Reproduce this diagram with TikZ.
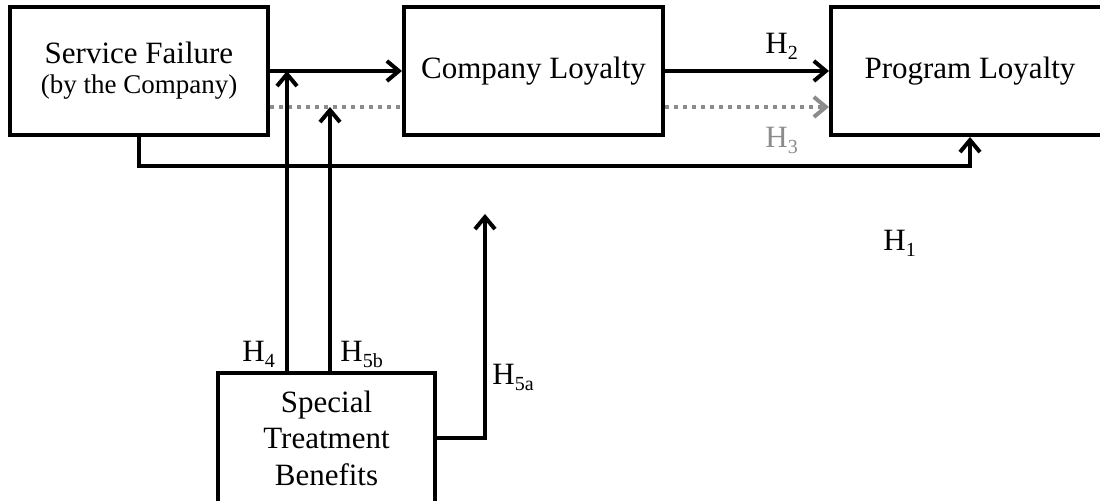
\documentclass[tikz,border=0pt]{standalone}
\usepackage{fontspec}
\setmainfont{Liberation Serif}
\usetikzlibrary{arrows.meta}
\definecolor{lgray}{RGB}{140,140,140}
\newcommand\Hsub[1]{H\raisebox{-3pt}{\fontsize{10}{12}\selectfont #1}}
\tikzset{
  box/.style={draw, line width=2pt, fill=white, align=center, inner sep=0pt,
    font=\fontsize{15.5}{16}\selectfont},
  tip/.style={-{Straight Barb[length=6pt,width=10pt]}},
  arr/.style={line width=2pt, tip},
  dot/.style={line width=2pt, draw=lgray, dash pattern=on 2.2pt off 2.3pt},
  lab/.style={anchor=base west, inner sep=0pt, font=\fontsize{15.5}{16}\selectfont}
}
\begin{document}
\begin{tikzpicture}[x=0.5pt,y=-0.5pt]
\clip (0,0) rectangle (1100,501);
\node[box, minimum width=129pt, minimum height=64pt] (sf) at (139,71)
  {Service Failure\\[-1pt]{\fontsize{13.5}{16}\selectfont (by the Company)}};
\node[box, minimum width=129.5pt, minimum height=64pt] (cl) at (533.5,71) {Company Loyalty};
\node[box, minimum width=139pt, minimum height=64pt] (pl) at (970,71) {Program Loyalty};
\node[box, minimum width=108.5pt, minimum height=65pt, font=\fontsize{15.5}{18.25}\selectfont] (st) at (326.5,438)
  {Special\\Treatment\\Benefits};
% named coordinates
\coordinate (j4) at (287,71);
\coordinate (j5) at (330,107);
\coordinate (t5) at (485,214);
\coordinate (d1) at (268,107);
\coordinate (low) at (0,166);
% connectors
\draw[arr] (sf.east) -- (cl.west);
\draw[arr] (cl.east) -- (pl.west);
\draw[dot] (sf.east |- d1) -- (cl.west |- d1);
\draw[dot, tip, lgray] (cl.east |- d1) -- (pl.west |- d1);
\draw[arr] (sf.south) -- (sf.south |- low) -| (pl.south);
\draw[arr] (st.north -| j4) -- (j4);
\draw[arr] (st.north -| j5) -- (j5);
\draw[arr] (st.east) -| (t5);
% labels
\node[lab] (h2) at (765,54) {\Hsub{2}};
\node[lab, text=lgray] (h3) at (765,148) {\Hsub{3}};
\node[lab] (h1) at (883,251) {\Hsub{1}};
\node[lab] (h4) at (242,362) {\Hsub{4}};
\node[lab] (h5b) at (340,362) {\Hsub{5b}};
\node[lab] (h5a) at (492,385) {\Hsub{5a}};
\end{tikzpicture}
\end{document}
